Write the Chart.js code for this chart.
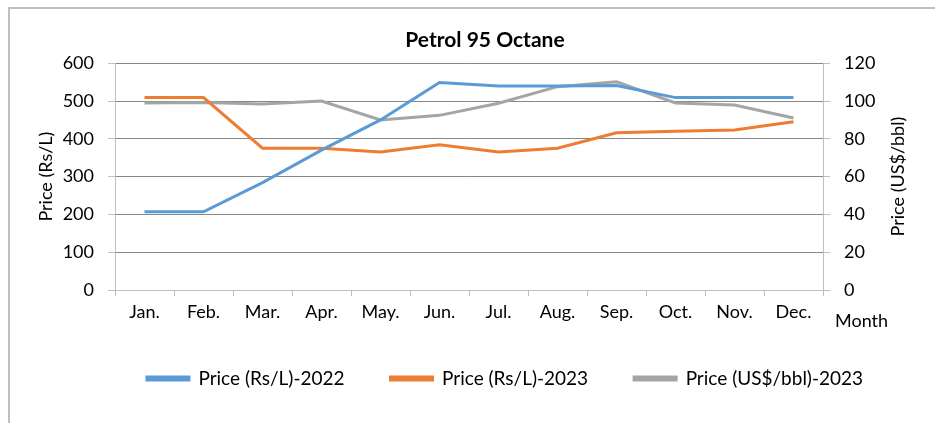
<!DOCTYPE html>
<html>
<head>
    <meta charset="UTF-8">
    <title>Petrol 95 Octane</title>
    <style>
        body {
            margin: 0;
            background: white;
            overflow: hidden;
        }

        .moldura {
            position: absolute;
            left: 8px;
            top: 7px;
            width: 1000px;
            height: 500px;
            border-top: 2px solid #bfbfbf;
            border-left: 2px solid #bfbfbf;
        }

        .grafico {
            position: absolute;
            left: 0;
            top: 0;
            width: 935px;
            height: 423px;
        }
    </style>
    <script src="https://cdn.jsdelivr.net/npm/chart.js"></script>
</head>
<body>
    <div class="moldura"></div>
    <div class="grafico">
        <canvas id="grafico-canvas" width="935" height="423"></canvas>
    </div>

    <script>
        var meses = ['Jan.', 'Feb.', 'Mar.', 'Apr.', 'May.', 'Jun.', 'Jul.', 'Aug.', 'Sep.', 'Oct.', 'Nov.', 'Dec.'];
        var precoRs2022 = [207, 207, 284, 370, 450, 549, 540, 540, 541, 509, 509, 509];
        var precoRs2023 = [509, 509, 375, 375, 365, 384, 365, 375, 416, 420, 423, 445];
        var precoUsd2023 = [99, 99.2, 98.4, 100, 90, 92.4, 98.8, 107.6, 110.2, 99, 97.9, 91];

        var fonte = 'Lato, "Open Sans", sans-serif';

        // "Month" ao lado do eixo x e título do eixo direito (lido de baixo para cima)
        var textosExtras = {
            id: 'textosExtras',
            afterLayout: function(chart) {
                // empurra a legenda um pouco para a direita, como no original
                chart.legend.left += 40;
            },
            afterDraw: function(chart) {
                var ctx = chart.ctx;
                var area = chart.chartArea;
                ctx.save();
                ctx.font = '18px ' + fonte;
                ctx.fillStyle = '#000';
                ctx.textAlign = 'left';
                ctx.textBaseline = 'middle';
                ctx.fillText('Month', area.right + 12, area.bottom + 31);

                ctx.translate(898, (area.top + area.bottom) / 2);
                ctx.rotate(-Math.PI / 2);
                ctx.textAlign = 'center';
                ctx.fillText('Price (US$/bbl)', 0, 0);
                ctx.restore();
            }
        };

        var ctx = document.getElementById('grafico-canvas').getContext('2d');
        var grafico = new Chart(ctx, {
            type: 'line',
            data: {
                labels: meses,
                datasets: [{
                    label: 'Price (Rs/L)-2022',
                    data: precoRs2022,
                    borderColor: '#5B9BD5',
                    backgroundColor: '#5B9BD5',
                    borderWidth: 3,
                    pointRadius: 0,
                    tension: 0,
                    yAxisID: 'y'
                }, {
                    label: 'Price (Rs/L)-2023',
                    data: precoRs2023,
                    borderColor: '#ED7D31',
                    backgroundColor: '#ED7D31',
                    borderWidth: 3,
                    pointRadius: 0,
                    tension: 0,
                    yAxisID: 'y'
                }, {
                    label: 'Price (US$/bbl)-2023',
                    data: precoUsd2023,
                    borderColor: '#A5A5A5',
                    backgroundColor: '#A5A5A5',
                    borderWidth: 3,
                    pointRadius: 0,
                    tension: 0,
                    yAxisID: 'y1'
                }]
            },
            options: {
                responsive: false,
                animation: false,
                layout: {
                    padding: { left: 35, right: 0, top: 28, bottom: 0 }
                },
                plugins: {
                    title: {
                        display: true,
                        text: 'Petrol 95 Octane',
                        color: '#000',
                        font: { family: fonte, size: 21, weight: 'bold' },
                        padding: { top: 0, bottom: 10 }
                    },
                    legend: {
                        position: 'bottom',
                        labels: {
                            color: '#000',
                            font: { family: fonte, size: 19 },
                            boxWidth: 42,
                            boxHeight: 3,
                            padding: 46
                        }
                    },
                    tooltip: { enabled: false }
                },
                scales: {
                    x: {
                        offset: true,
                        grid: {
                            offset: true,
                            drawOnChartArea: false,
                            tickLength: 6,
                            color: '#bfbfbf'
                        },
                        border: { color: '#bfbfbf', width: 1 },
                        ticks: {
                            color: '#000',
                            font: { family: fonte, size: 18 },
                            maxRotation: 0,
                            padding: 5
                        },
                        afterFit: function(scale) { scale.height = 33; }
                    },
                    y: {
                        position: 'left',
                        min: 0,
                        max: 600,
                        ticks: {
                            stepSize: 100,
                            color: '#000',
                            font: { family: fonte, size: 18 },
                            padding: 14
                        },
                        grid: {
                            color: '#878787',
                            tickLength: 7,
                            tickColor: '#bfbfbf'
                        },
                        border: { color: '#bfbfbf', width: 1 },
                        title: {
                            display: true,
                            text: 'Price (Rs/L)',
                            color: '#000',
                            font: { family: fonte, size: 18 },
                            padding: 0
                        },
                        afterFit: function(scale) { scale.width = 80; }
                    },
                    y1: {
                        position: 'right',
                        min: 0,
                        max: 120,
                        ticks: {
                            stepSize: 20,
                            color: '#000',
                            font: { family: fonte, size: 18 },
                            padding: 14
                        },
                        grid: {
                            drawOnChartArea: false,
                            tickLength: 7,
                            color: '#bfbfbf'
                        },
                        border: { color: '#bfbfbf', width: 1 },
                        afterFit: function(scale) { scale.width = 112; }
                    }
                }
            },
            plugins: [textosExtras]
        });

        // a legenda fica com altura fixa, o espaçamento horizontal grande não empurra o gráfico
        var legendaFit = grafico.legend.fit;
        grafico.legend.fit = function() {
            legendaFit.call(this);
            this.height = 100;
        };
        grafico.update();
    </script>
</body>
</html>
